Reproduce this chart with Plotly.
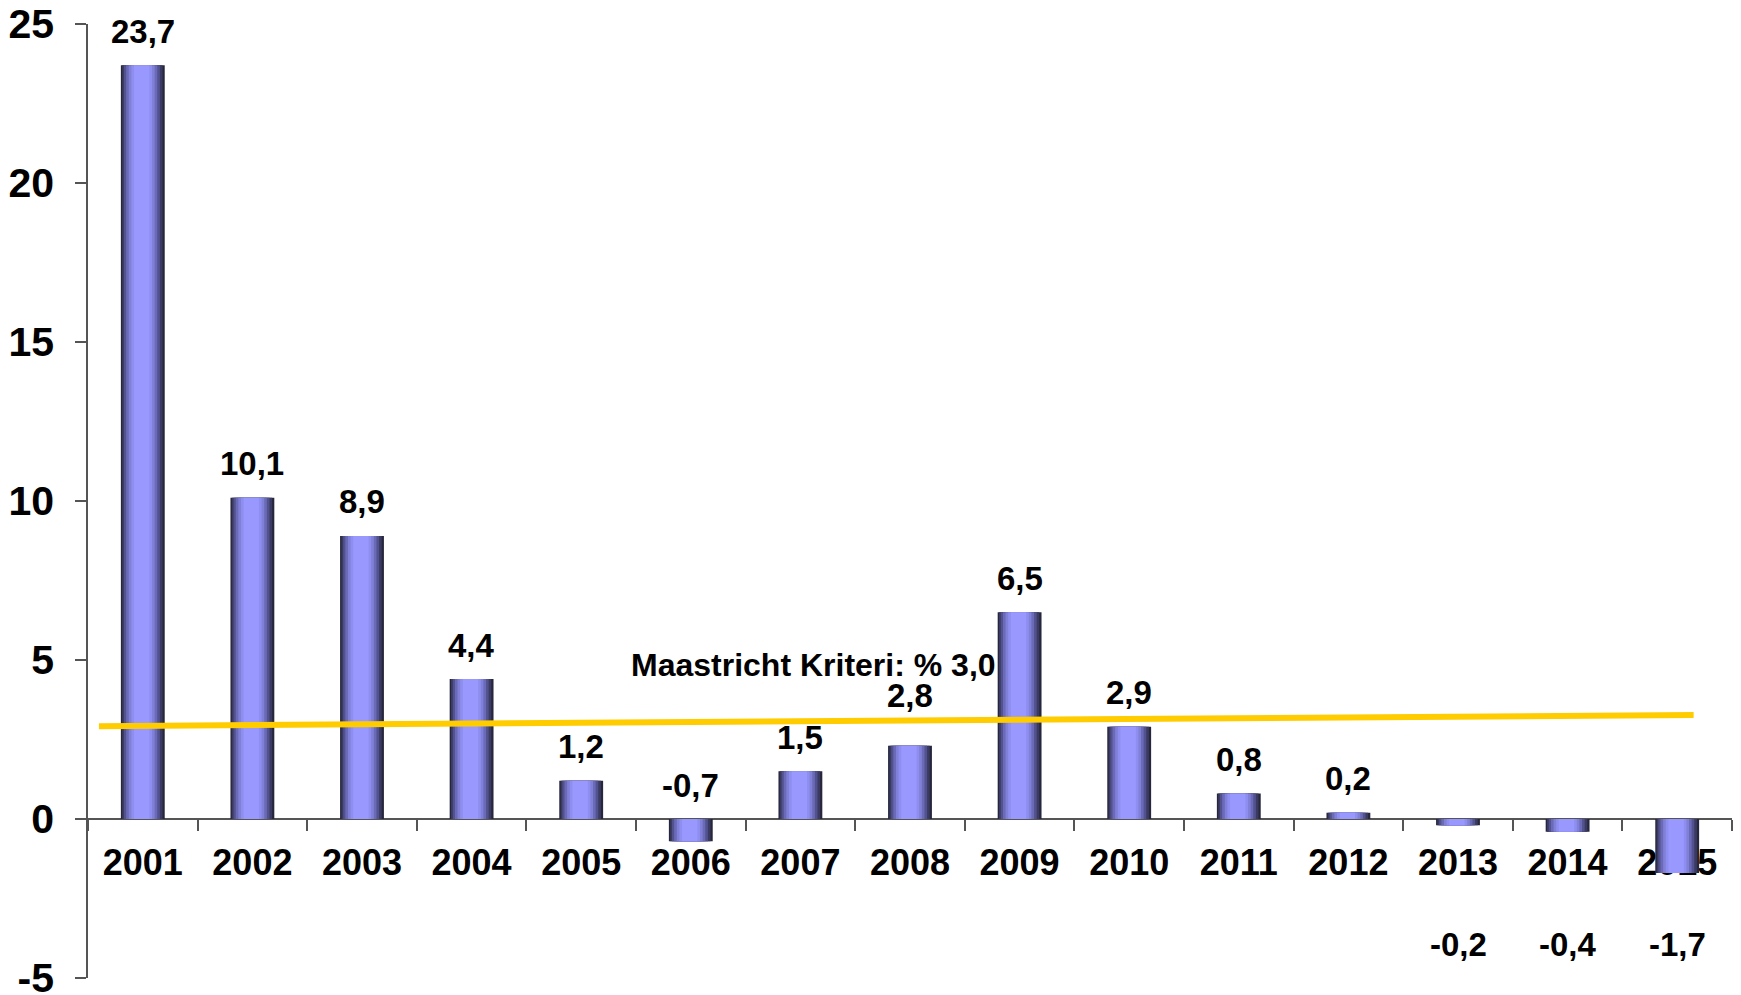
import plotly.graph_objects as go

years = ["2001", "2002", "2003", "2004", "2005", "2006", "2007", "2008",
         "2009", "2010", "2011", "2012", "2013", "2014", "2015"]
bar_values = [23.7, 10.1, 8.9, 4.4, 1.2, -0.7, 1.5, 2.3, 6.5, 2.9, 0.8, 0.2, -0.2, -0.4, -1.7]
label_values = [23.7, 10.1, 8.9, 4.4, 1.2, -0.7, 1.5, 2.8, 6.5, 2.9, 0.8, 0.2, -0.2, -0.4, -1.7]
criterion_start = 2.92
criterion_end = 3.27
criterion_text = "Maastricht Kriteri: % 3,0"
y_ticks = [-5, 0, 5, 10, 15, 20, 25]

FONT = "Liberation Sans, Arial, sans-serif"
BAR_W = 0.4
LABEL_FONT = dict(family=FONT, size=33, color="black", weight="bold")

# cylinder-like shading built from stacked overlaid bars (dark edges, light centre)
layers = [
    (0.00, 1.00, "#26263c"),
    (0.03, 0.95, "#3a3a62"),
    (0.07, 0.89, "#52528e"),
    (0.12, 0.83, "#6a6ab8"),
    (0.18, 0.77, "#8080d8"),
    (0.24, 0.71, "#8e8ef0"),
    (0.30, 0.65, "#9898fe"),
]

fig = go.Figure()
for a, b, col in layers:
    fig.add_trace(go.Bar(
        x=years, y=bar_values,
        width=(b - a) * BAR_W,
        offset=-BAR_W / 2 + a * BAR_W,
        marker=dict(color=col, line=dict(width=0)),
        hoverinfo="skip", showlegend=False,
    ))

# Maastricht criterion line
fig.add_shape(type="line", xref="x", yref="y",
              x0=-0.4, x1=14.15, y0=criterion_start, y1=criterion_end,
              line=dict(color="#FFCC00", width=6), layer="above")

fig.add_annotation(x=6.12, y=4.85, xref="x", yref="y", text=criterion_text,
                   showarrow=False, font=dict(family=FONT, size=32, color="black", weight="bold"),
                   xanchor="center", yanchor="middle")

below = {"2013", "2014", "2015"}
for i, (yr, bv, lv) in enumerate(zip(years, bar_values, label_values)):
    txt = f"{lv:.1f}".replace(".", ",")
    if yr in below:
        fig.add_annotation(x=i, y=-3.95, xref="x", yref="y", text=txt, showarrow=False,
                           font=LABEL_FONT, xanchor="center", yanchor="middle")
    else:
        fig.add_annotation(x=i, y=max(lv, 0), xref="x", yref="y", text=txt, showarrow=False,
                           font=LABEL_FONT, xanchor="center", yanchor="middle", yshift=34)

fig.update_layout(
    width=1741, height=995,
    margin=dict(l=80, r=17, t=16, b=25),
    plot_bgcolor="white", paper_bgcolor="white",
    barmode="overlay",
    showlegend=False,
    xaxis=dict(
        type="category", range=[-0.5, 14.5],
        anchor="free", position=5 / 30,
        showline=True, linecolor="#555555", linewidth=1.5,
        ticks="outside", tickson="boundaries", ticklen=11, tickcolor="#555555", tickwidth=1.5,
        tickfont=dict(family=FONT, size=36, color="black", weight="bold"),
        ticklabelstandoff=12, ticklabeloverflow="allow",
        showgrid=False, zeroline=False, layer="below traces", automargin=False,
    ),
    yaxis=dict(
        range=[-5, 25],
        tickvals=y_ticks, ticktext=[str(v) for v in y_ticks],
        showline=True, linecolor="#555555", linewidth=1.5,
        ticks="outside", ticklen=11, tickcolor="#555555", tickwidth=1.5,
        tickfont=dict(family=FONT, size=41, color="black", weight="bold"),
        ticklabelstandoff=13, ticklabeloverflow="allow",
        showgrid=False, zeroline=False, automargin=False,
    ),
)

fig.write_html("out.html")
